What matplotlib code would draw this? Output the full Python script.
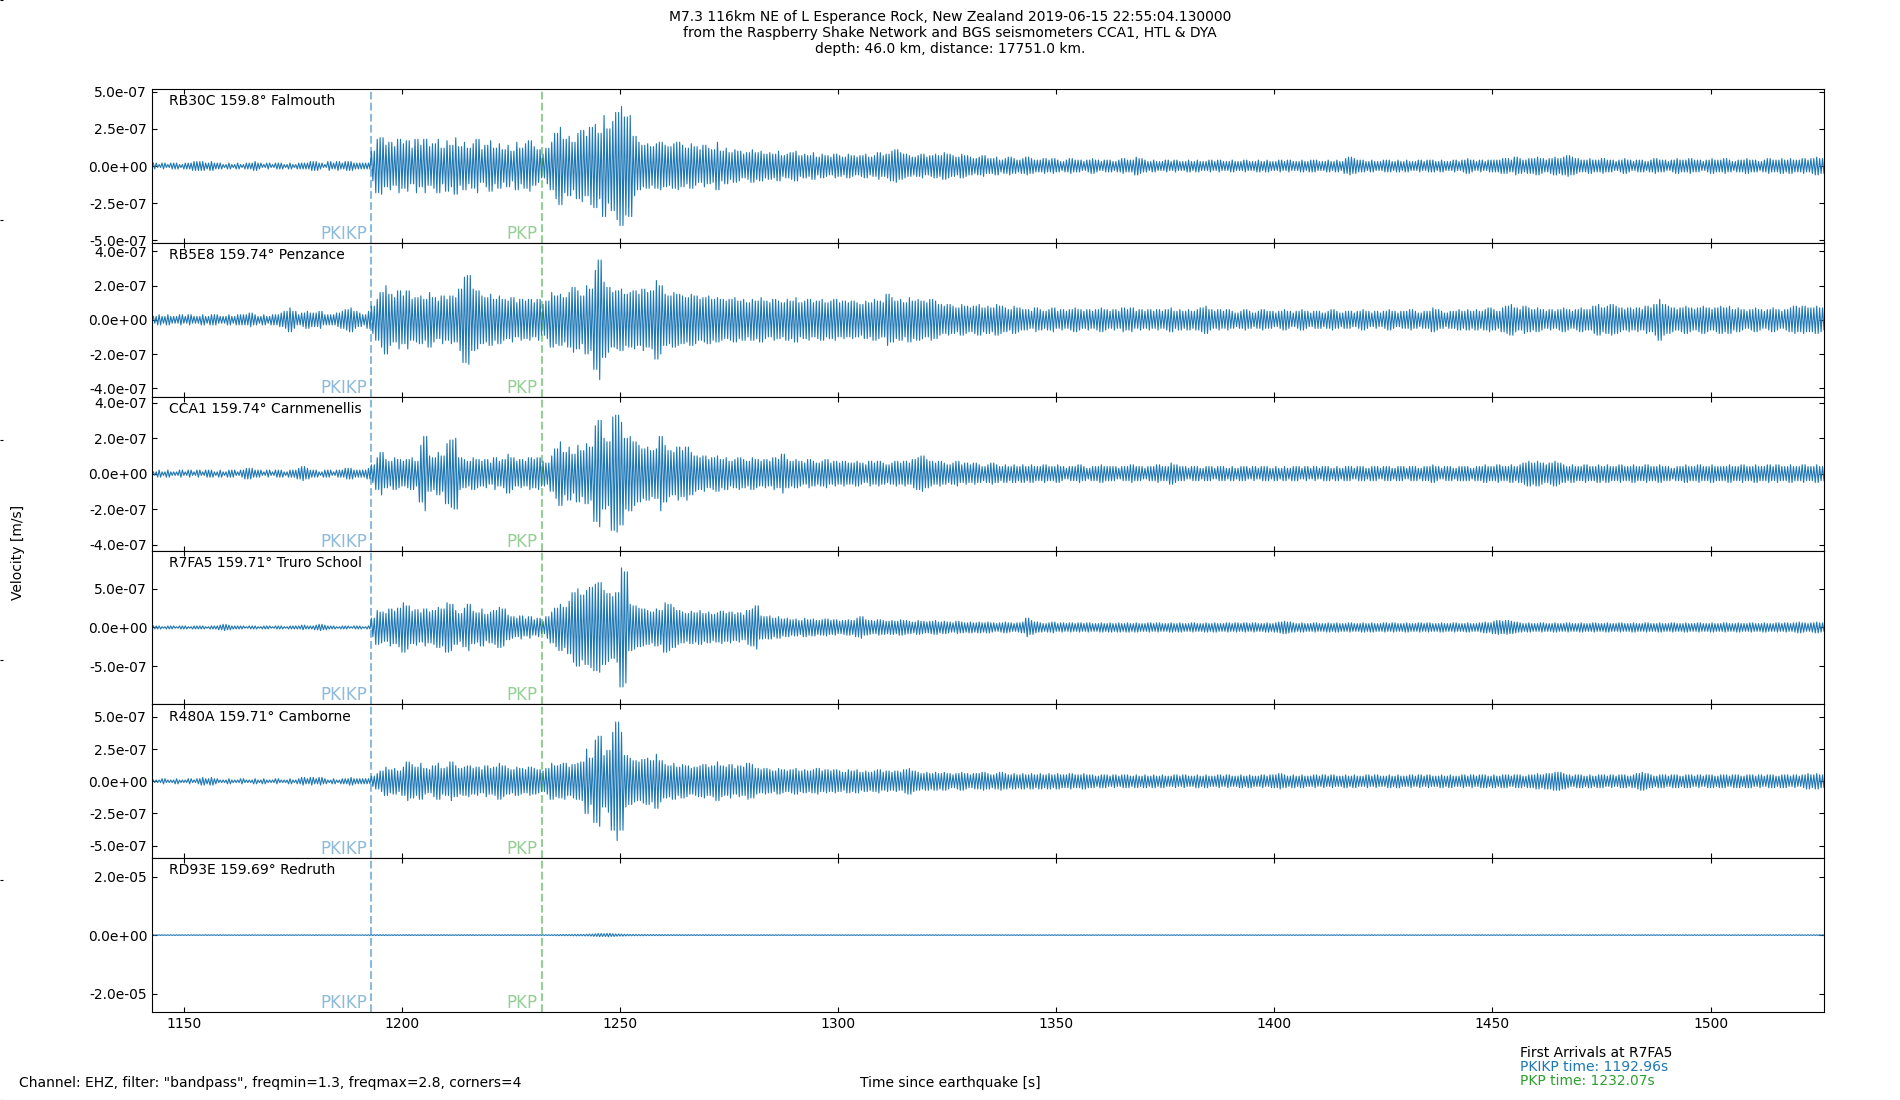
import numpy as np
import matplotlib
matplotlib.use("Agg")
import matplotlib.pyplot as plt
from matplotlib.ticker import MultipleLocator, FormatStrFormatter

# station info
stations = ["RB30C", "RB5E8", "CCA1", "R7FA5", "R480A", "RD93E"]
distances = [159.8, 159.74, 159.74, 159.71, 159.71, 159.69]
places = ["Falmouth", "Penzance", "Carnmenellis", "Truro School", "Camborne", "Redruth"]

pkikp_time = 1192.96
pkp_time = 1232.07

# envelope of each trace, one value per second starting at t_start, in units of 1e-8 m/s
t_start = 1143
amp_unit = 1e-8

env_rb30c = [
    2, 1, 2, 1, 2, 2, 1, 2, 2, 3, 3, 3, 2, 3, 2, 2, 1, 2, 1, 2,            # 1143
    1, 2, 2, 3, 2, 1, 2, 1, 2, 2, 1, 2, 1, 2, 2, 2, 3, 3, 2, 1,            # 1163
    3, 2, 3, 2, 3, 3, 2, 2, 2, 2, 10, 18, 19, 14, 16, 13, 18, 15, 17, 12,  # 1183
    18, 14, 18, 13, 15, 18, 12, 17, 14, 19, 13, 16, 12, 15, 18, 11, 14, 17, 12, 15,
    11, 14, 10, 16, 12, 15, 17, 13, 11, 8, 12, 16, 22, 26, 18, 20, 16, 22, 24, 20,
    26, 28, 22, 34, 25, 30, 36, 40, 33, 34, 20, 16, 14, 15, 13, 15, 16, 14, 13, 15,
    16, 14, 12, 15, 13, 11, 14, 12, 11, 16, 10, 12, 9, 11, 10, 8, 9, 11, 9, 10,
    8, 9, 8, 10, 7, 8, 9, 10, 7, 8, 7, 9, 6, 8, 7, 6, 8, 7, 6, 8,          # 1283
    7, 6, 7, 8, 6, 7, 9, 7, 8, 10, 11, 9, 8, 7, 6, 7, 8, 6, 7, 8,
    7, 9, 8, 7, 6, 8, 7, 6, 5, 6, 7, 5, 5, 6, 4, 5, 6, 5, 4, 5,
    6, 5, 4, 4, 5, 4, 5, 4, 3, 4, 5, 4, 4, 3, 4, 5, 4, 3, 4, 4,
    3, 4, 5, 4, 4, 6, 5, 4, 3, 4, 3, 3, 4, 3, 4, 3, 3, 4, 3, 4,
    3, 3, 4, 3, 4, 3, 3, 4, 3, 3, 4, 3, 3, 4, 3, 4, 3, 3, 4, 3,            # 1383
    4, 3, 3, 4, 3, 4, 4, 3, 3, 4, 3, 4, 3, 5, 6, 5, 4, 4, 3, 4,
    3, 3, 4, 4, 3, 4, 3, 4, 3, 3, 4, 3, 4, 4, 3, 4, 3, 3, 4, 3,
    4, 5, 4, 3, 4, 3, 4, 4, 4, 5, 5, 4, 6, 5, 4, 5, 5, 6, 5, 4,
    5, 6, 5, 6, 7, 6, 5, 4, 4, 5, 4, 4, 5, 4, 4, 3, 4, 5, 4, 3,
    4, 4, 3, 4, 5, 4, 4, 3, 4, 5, 4, 4, 5, 4, 4, 3, 4, 5, 4, 4,            # 1483
    5, 4, 3, 4, 4, 5, 4, 4, 3, 4, 5, 4, 4, 5, 4, 5, 4, 4, 5, 4,
    5, 6, 5, 5,
]

env_rb5e8 = [
    2, 3, 2, 3, 2, 2, 3, 2, 3, 2, 2, 3, 2, 3, 3, 2, 2, 3, 2, 3,            # 1143
    3, 3, 4, 3, 2, 3, 2, 3, 3, 4, 5, 7, 5, 3, 4, 5, 4, 4, 5, 3,
    3, 3, 4, 5, 6, 7, 5, 4, 3, 5, 8, 12, 16, 20, 15, 13, 17, 14, 17, 12,
    13, 14, 12, 16, 13, 11, 14, 12, 14, 13, 18, 25, 26, 18, 17, 14, 13, 15, 12, 14,
    12, 11, 13, 10, 12, 11, 12, 10, 12, 9, 11, 16, 14, 15, 13, 16, 19, 17, 14, 20,
    18, 29, 35, 22, 19, 16, 17, 18, 15, 16, 17, 15, 18, 16, 17, 23, 20, 15, 14, 16,
    15, 14, 13, 15, 14, 12, 13, 14, 12, 13, 12, 11, 12, 13, 11, 12, 10, 12, 11, 13,
    11, 10, 12, 11, 10, 12, 11, 13, 10, 11, 12, 10, 11, 12, 10, 11, 12, 10, 11, 10,
    11, 10, 9, 11, 10, 12, 11, 10, 15, 13, 11, 12, 10, 13, 11, 12, 11, 10, 12, 11,
    9, 8, 9, 8, 7, 9, 8, 7, 8, 9, 7, 8, 7, 9, 8, 7, 6, 8, 7, 6,
    6, 5, 7, 6, 5, 6, 7, 5, 6, 5, 6, 7, 6, 5, 6, 5, 6, 7, 6, 5,
    6, 5, 7, 6, 7, 5, 6, 5, 6, 5, 6, 5, 6, 7, 5, 6, 5, 6, 5, 6,
    7, 8, 6, 5, 6, 5, 6, 5, 4, 5, 6, 5, 4, 5, 6, 5, 5, 4, 5, 6,            # 1383
    5, 4, 5, 6, 5, 4, 5, 5, 4, 5, 6, 5, 4, 5, 5, 4, 5, 6, 5, 4,
    5, 4, 5, 6, 5, 4, 5, 5, 6, 5, 4, 5, 5, 7, 6, 5, 4, 5, 5, 6,
    5, 6, 5, 6, 5, 6, 7, 6, 5, 7, 8, 9, 7, 6, 8, 7, 6, 7, 6, 5,
    6, 5, 6, 7, 6, 5, 6, 7, 6, 6, 8, 9, 7, 8, 9, 8, 7, 6, 7, 6,
    7, 6, 8, 7, 9, 12, 9, 8, 7, 6, 7, 8, 7, 6, 7, 8, 7, 6, 7, 8,
    7, 8, 6, 7, 6, 5, 6, 7, 6, 5, 6, 7, 6, 5, 6, 7, 8, 7, 8, 7,
    7, 8, 7, 6,
]

env_cca1 = [
    1, 2, 1, 2, 1, 1, 2, 1, 2, 1, 2, 1, 2, 2, 1, 2, 1, 2, 2, 1,            # 1143
    2, 3, 3, 2, 2, 1, 2, 1, 2, 2, 1, 2, 2, 3, 4, 3, 2, 2, 1, 2,
    2, 1, 2, 2, 3, 3, 2, 2, 2, 3, 5, 9, 12, 8, 7, 9, 8, 7, 8, 9,
    7, 16, 21, 10, 9, 12, 10, 17, 19, 20, 9, 8, 7, 9, 8, 7, 8, 6, 9, 7,
    8, 11, 9, 7, 8, 7, 9, 8, 9, 7, 6, 10, 14, 18, 12, 15, 11, 16, 13, 17,
    15, 27, 30, 20, 18, 32, 33, 29, 20, 21, 18, 16, 14, 15, 13, 14, 21, 16, 13, 12,
    15, 13, 15, 12, 10, 9, 10, 8, 9, 10, 8, 9, 7, 8, 9, 8, 7, 9, 8, 7,
    8, 7, 9, 8, 11, 8, 7, 8, 7, 6, 8, 7, 6, 7, 8, 6, 7, 6, 7, 6,
    6, 7, 6, 5, 7, 6, 7, 6, 5, 6, 7, 6, 7, 6, 8, 9, 10, 8, 7, 6,
    7, 6, 5, 6, 7, 5, 6, 5, 6, 5, 4, 5, 6, 5, 4, 5, 4, 5, 4, 5,
    4, 5, 4, 4, 5, 4, 4, 5, 4, 3, 4, 4, 5, 4, 3, 4, 4, 5, 4, 4,
    4, 3, 4, 4, 5, 4, 4, 3, 4, 4, 5, 4, 4, 6, 5, 4, 4, 3, 4, 4,
    3, 4, 4, 3, 4, 4, 3, 4, 3, 4, 4, 3, 4, 3, 4, 4, 3, 4, 3, 4,            # 1383
    3, 4, 4, 3, 4, 3, 4, 3, 4, 4, 3, 4, 3, 4, 4, 3, 4, 4, 3, 4,
    4, 3, 4, 4, 3, 4, 4, 3, 4, 4, 3, 4, 4, 5, 4, 3, 4, 4, 3, 4,
    4, 4, 3, 4, 4, 5, 4, 4, 5, 4, 4, 5, 4, 5, 6, 7, 6, 7, 6, 5,
    6, 7, 6, 5, 4, 5, 4, 4, 5, 4, 4, 5, 4, 5, 4, 4, 5, 4, 4, 5,
    4, 4, 5, 4, 4, 5, 4, 4, 3, 4, 4, 5, 4, 4, 5, 4, 4, 5, 4, 4,
    4, 5, 4, 4, 5, 4, 4, 5, 4, 4, 5, 4, 5, 4, 4, 5, 4, 4, 5, 4,
    4, 5, 4, 4,
]

env_r7fa5 = [
    2, 2, 1, 2, 2, 1, 2, 2, 1, 2, 2, 2, 1, 2, 2, 3, 4, 3, 2, 2,            # 1143
    2, 1, 2, 2, 1, 2, 2, 1, 2, 2, 1, 2, 2, 2, 3, 2, 2, 3, 4, 3,
    2, 2, 1, 2, 2, 1, 2, 2, 1, 2, 12, 22, 20, 18, 24, 21, 25, 32, 28, 21,
    23, 19, 24, 20, 22, 26, 24, 32, 30, 22, 18, 25, 30, 21, 19, 24, 17, 20, 22, 26,
    24, 16, 14, 12, 15, 11, 14, 10, 12, 8, 14, 20, 25, 30, 26, 34, 45, 50, 42, 48,
    52, 56, 58, 48, 44, 40, 45, 77, 72, 30, 28, 25, 24, 22, 20, 24, 22, 32, 30, 26,
    22, 20, 18, 21, 19, 22, 18, 20, 17, 19, 21, 18, 20, 17, 19, 16, 22, 24, 28, 15,
    14, 15, 12, 14, 11, 12, 10, 11, 9, 12, 10, 11, 9, 10, 11, 9, 10, 8, 9, 10,
    9, 12, 14, 10, 9, 8, 10, 9, 8, 9, 8, 10, 9, 8, 7, 9, 8, 7, 8, 9,
    7, 8, 7, 6, 8, 7, 6, 7, 6, 7, 6, 7, 6, 5, 6, 7, 6, 5, 6, 7,
    12, 9, 7, 6, 5, 6, 7, 5, 6, 5, 6, 5, 6, 5, 6, 5, 5, 6, 5, 6,
    5, 6, 5, 6, 5, 6, 5, 5, 6, 5, 6, 5, 5, 6, 5, 6, 5, 5, 6, 5,
    5, 6, 5, 6, 5, 5, 6, 5, 6, 5, 6, 5, 6, 5, 5, 6, 5, 6, 7, 8,            # 1383
    7, 6, 5, 6, 5, 5, 6, 5, 5, 6, 5, 6, 5, 5, 6, 5, 5, 6, 5, 6,
    5, 5, 6, 5, 6, 5, 5, 6, 5, 5, 6, 5, 6, 5, 5, 6, 5, 5, 6, 5,
    5, 6, 5, 5, 6, 7, 6, 8, 9, 8, 9, 8, 7, 6, 5, 6, 5, 5, 6, 5,
    5, 6, 5, 5, 6, 5, 5, 6, 5, 5, 6, 5, 5, 6, 5, 5, 6, 5, 5, 6,
    5, 5, 6, 5, 5, 6, 5, 5, 6, 5, 5, 6, 5, 5, 6, 5, 5, 6, 5, 5,
    6, 5, 5, 6, 5, 5, 6, 5, 5, 6, 5, 5, 6, 5, 6, 5, 6, 7, 6, 5,
    6, 7, 6, 5,
]

env_r480a = [
    1, 1, 2, 1, 1, 2, 1, 1, 2, 1, 2, 3, 2, 3, 2, 1, 1, 2, 1, 1,            # 1143
    2, 1, 1, 2, 1, 2, 1, 1, 2, 1, 1, 2, 1, 2, 3, 2, 3, 2, 3, 2,
    1, 2, 1, 2, 2, 3, 2, 2, 2, 2, 4, 6, 8, 11, 9, 10, 8, 11, 15, 13,
    11, 14, 10, 9, 12, 14, 10, 11, 15, 12, 10, 11, 12, 10, 11, 9, 12, 10, 11, 14,
    12, 10, 9, 11, 10, 9, 11, 10, 9, 8, 10, 14, 12, 13, 14, 11, 13, 14, 15, 25,
    18, 32, 35, 20, 24, 38, 46, 38, 20, 18, 16, 15, 17, 18, 16, 21, 16, 13, 12, 14,
    11, 13, 12, 10, 11, 12, 13, 11, 12, 15, 12, 11, 13, 10, 12, 11, 14, 13, 10, 9,
    10, 9, 8, 10, 9, 8, 9, 10, 8, 9, 8, 9, 10, 8, 9, 8, 9, 8, 7, 9,
    8, 9, 7, 8, 7, 8, 9, 7, 8, 7, 8, 7, 9, 10, 8, 7, 6, 7, 6, 7,
    6, 7, 6, 5, 6, 7, 6, 5, 6, 6, 7, 6, 5, 6, 7, 6, 5, 6, 5, 6,
    5, 6, 5, 6, 5, 6, 5, 6, 5, 5, 6, 5, 5, 6, 5, 5, 4, 5, 5, 4,
    5, 4, 5, 5, 4, 5, 4, 5, 4, 5, 4, 5, 4, 4, 5, 4, 5, 4, 4, 5,
    4, 5, 4, 4, 5, 4, 5, 4, 4, 5, 4, 5, 4, 4, 5, 4, 5, 5, 6, 5,            # 1383
    4, 5, 4, 5, 4, 4, 5, 4, 5, 4, 5, 4, 4, 5, 4, 5, 4, 4, 5, 4,
    5, 4, 4, 5, 4, 5, 4, 4, 5, 4, 5, 4, 5, 4, 4, 5, 4, 5, 4, 4,
    5, 4, 5, 4, 5, 5, 4, 5, 4, 5, 5, 4, 5, 5, 4, 5, 5, 6, 5, 6,
    6, 7, 7, 6, 5, 4, 5, 5, 4, 5, 4, 5, 5, 4, 5, 4, 5, 5, 4, 5,
    6, 7, 6, 5, 4, 5, 5, 4, 5, 5, 4, 5, 5, 4, 5, 4, 5, 5, 4, 5,
    5, 4, 5, 5, 4, 5, 5, 4, 5, 4, 5, 5, 4, 5, 5, 4, 5, 4, 5, 6,
    5, 6, 5, 5,
]

env_rd93e = [
    10, 12, 10, 11, 10, 12, 11, 10, 12, 10, 11, 10, 12, 10, 11, 12, 10, 11, 10, 12,  # 1143
    10, 11, 12, 10, 11, 10, 12, 11, 10, 11, 12, 10, 11, 10, 12, 11, 10, 12, 11, 10,
    11, 10, 12, 11, 10, 11, 12, 10, 11, 12, 14, 16, 15, 17, 14, 16, 15, 14, 16, 15,
    14, 16, 15, 13, 15, 14, 16, 15, 14, 13, 15, 14, 16, 15, 13, 14, 15, 13, 14, 15,
    13, 14, 15, 13, 14, 13, 15, 14, 13, 12, 14, 16, 18, 20, 22, 20, 24, 26, 25, 30,
    35, 45, 55, 50, 60, 48, 40, 35, 30, 25, 22, 20, 21, 19, 20, 18, 19, 17, 18, 17,
    16, 17, 15, 16, 15, 14, 15, 16, 14, 15, 14, 13, 14, 15, 13, 14, 13, 12, 13, 14,
    12, 13, 12, 11, 13, 12, 11, 12, 13, 11, 12, 11, 12, 13, 11, 12, 11, 12, 11, 12,
    11, 12, 11, 10, 12, 11, 12, 11, 10, 11, 12, 11, 10, 11, 12, 11, 10, 11, 12, 11,
    10, 11, 12, 10, 11, 10, 11, 12, 10, 11, 10, 11, 12, 10, 11, 10, 11, 10, 12, 11,
    10, 11, 10, 12, 11, 10, 11, 10, 11, 12, 10, 11, 10, 11, 10, 12, 11, 10, 11, 10,
    11, 10, 12, 11, 10, 11, 10, 11, 12, 10, 11, 10, 11, 10, 12, 11, 10, 11, 10, 11,
    10, 12, 11, 10, 11, 10, 11, 12, 10, 11, 10, 11, 10, 12, 11, 10, 11, 10, 11, 10,  # 1383
    12, 11, 10, 11, 10, 11, 12, 10, 11, 10, 11, 10, 12, 11, 10, 11, 10, 11, 10, 12,
    11, 10, 11, 10, 11, 12, 10, 11, 10, 11, 10, 12, 11, 10, 11, 10, 11, 10, 12, 11,
    10, 11, 10, 11, 12, 10, 11, 10, 11, 10, 12, 11, 10, 11, 10, 11, 10, 12, 11, 10,
    11, 10, 11, 12, 10, 11, 10, 11, 10, 12, 11, 10, 11, 10, 11, 10, 12, 11, 10, 11,
    10, 11, 12, 10, 11, 10, 11, 10, 12, 11, 10, 11, 10, 11, 10, 12, 11, 10, 11, 10,
    11, 12, 10, 11, 10, 11, 10, 12, 11, 10, 11, 10, 11, 10, 12, 11, 10, 11, 10, 11,
    11, 12, 11, 12,
]

envelopes = [env_rb30c, env_rb5e8, env_cca1, env_r7fa5, env_r480a, env_rd93e]
y_limits = [5.17e-7, 4.5e-7, 4.34e-7, 0.995e-6, 5.97e-7, 2.63e-5]
y_steps = [2.5e-7, 2e-7, 2e-7, 5e-7, 2.5e-7, 2e-5]

plt.rcParams["font.size"] = 10

fig, axs = plt.subplots(6, 1, sharex=True, figsize=(19, 11), dpi=100)
fig.subplots_adjust(left=0.08, right=0.96, bottom=0.08, top=0.919, hspace=0)

# invisible full-figure axes (only its little left ticks show)
bigax = fig.add_axes([0, 0, 1, 1], frameon=False, zorder=-1)
bigax.set_xticks([])
bigax.tick_params(direction="in", length=2, labelleft=False)

for ax, name, dist, place, env, ylim, step in zip(axs, stations, distances, places,
                                                   envelopes, y_limits, y_steps):
    amp = np.asarray(env, dtype=float) * amp_unit
    # three swings per second, alternating up and down to the envelope
    amp3 = np.repeat(amp, 3)
    x = t_start + np.arange(len(amp3)) / 3.0
    y = amp3 * np.where(np.arange(len(amp3)) % 2 == 0, 1.0, -1.0)
    ax.plot(x, y, color="C0", lw=0.8)

    ax.axvline(pkikp_time, color="C0", ls="--", lw=1.5, alpha=0.5)
    ax.axvline(pkp_time, color="C2", ls="--", lw=1.5, alpha=0.5)
    ax.text(pkikp_time - 1, -ylim, "PKIKP", color="C0", alpha=0.5, fontsize=12,
            ha="right", va="bottom")
    ax.text(pkp_time - 1, -ylim, "PKP", color="C2", alpha=0.5, fontsize=12,
            ha="right", va="bottom")

    ax.set_ylim(-ylim, ylim)
    ax.yaxis.set_major_locator(MultipleLocator(step))
    ax.yaxis.set_major_formatter(FormatStrFormatter("%.1e"))
    ax.tick_params(direction="in", top=True, right=True)
    ax.text(0.01, 0.92, f"{name} {dist}\u00b0 {place}", transform=ax.transAxes,
            va="center")

axs[-1].set_xlim(1142.7, 1526)
axs[-1].xaxis.set_major_locator(MultipleLocator(50))

fig.suptitle("M7.3 116km NE of L Esperance Rock, New Zealand 2019-06-15 22:55:04.130000\n"
             "from the Raspberry Shake Network and BGS seismometers CCA1, HTL & DYA\n"
             "depth: 46.0 km, distance: 17751.0 km.", fontsize=10, y=0.991, va="top")
fig.text(0.5, 0.0150, "Time since earthquake [s]", ha="center", va="center")
fig.text(0.0095, 0.498, "Velocity [m/s]", rotation=90, ha="center", va="center")
fig.text(0.01, 0.0155, 'Channel: EHZ, filter: "bandpass", freqmin=1.3, freqmax=2.8, corners=4',
         va="center")
fig.text(0.8, 0.0425, "First Arrivals at R7FA5", va="center")
fig.text(0.8, 0.0300, f"PKIKP time: {pkikp_time:.2f}s", color="C0", va="center")
fig.text(0.8, 0.0175, f"PKP time: {pkp_time:.2f}s", color="C2", va="center")

fig.savefig("out.png", dpi=100)
